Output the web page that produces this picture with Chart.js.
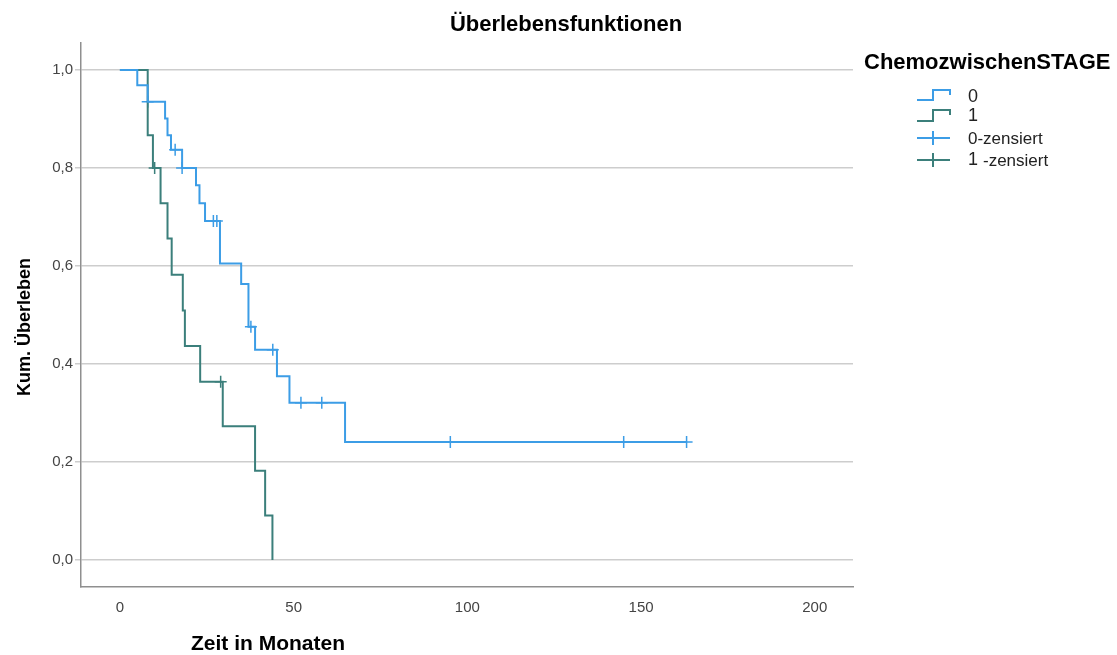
<!DOCTYPE html>
<html lang="de">
<head>
  <meta charset="UTF-8">
  <title>Überlebensfunktionen</title>
  <script src="https://cdn.jsdelivr.net/npm/chart.js"></script>
  <style>
    html, body { margin: 0; padding: 0; background: #fff; }
    canvas { display: block; }
  </style>
</head>
<body>
  <canvas id="kmChart" width="1117" height="655"></canvas>

  <script>
    // Kaplan-Meier Schätzung, Gruppe 0 (Zeit in Monaten / kum. Überleben)
    const zeit0 = [0, 5, 8, 13, 13.7, 14.7, 17.9, 21.9, 22.9, 24.5, 28.8, 34.9, 37, 38.9, 45.2, 48.8, 64.8, 163.1];
    const surv0 = [1, 0.969, 0.935, 0.901, 0.867, 0.837, 0.800, 0.765, 0.728, 0.692, 0.605, 0.563, 0.476, 0.429, 0.375, 0.321, 0.241, 0.241];
    const zensZeit0 = [8, 15.9, 17.9, 26.9, 27.9, 37.7, 44, 52.1, 58.1, 95.1, 145, 163.1];
    const zensSurv0 = [0.935, 0.837, 0.800, 0.692, 0.692, 0.476, 0.429, 0.321, 0.321, 0.241, 0.241, 0.241];

    // Gruppe 1
    const zeit1 = [0, 8, 9.5, 11.7, 13.7, 14.9, 18.1, 18.7, 23.1, 29.6, 38.9, 41.8, 43.9];
    const surv1 = [1, 0.867, 0.800, 0.728, 0.656, 0.582, 0.509, 0.437, 0.364, 0.273, 0.182, 0.091, 0];
    const zensZeit1 = [10, 29];
    const zensSurv1 = [0.800, 0.364];

    const xTicks = [0, 50, 100, 150, 200];
    const yTicks = [0, 0.2, 0.4, 0.6, 0.8, 1.0];

    const blau = '#3c9de6';
    const gruen = '#3b7f7b';
    const schrift = '"Liberation Sans", Arial, sans-serif';
    const schmal = '"Liberation Sans Narrow", "Liberation Sans", Arial, sans-serif';

    const punkte = (xs, ys) => xs.map((x, i) => ({ x: x, y: ys[i] }));

    // Titel, Achsentitel und Legende
    const beschriftung = {
      id: 'beschriftung',
      afterDraw(chart) {
        const c = chart.ctx;
        c.save();
        c.fillStyle = '#000';
        c.textBaseline = 'middle';

        c.textAlign = 'center';
        c.font = 'bold 22px ' + schrift;
        c.fillText('Überlebensfunktionen', 566, 25);

        c.font = 'bold 21px ' + schrift;
        c.fillText('Zeit in Monaten', 268, 644);
        c.save();
        c.translate(25, 327);
        c.rotate(-Math.PI / 2);
        c.font = 'bold 18px ' + schrift;
        c.fillText('Kum. Überleben', 0, 0);
        c.restore();

        // Legende
        c.textAlign = 'left';
        c.font = 'bold 22px ' + schrift;
        c.fillText('ChemozwischenSTAGE', 864, 63);

        c.lineWidth = 2;
        const stufe = (farbe, yLo, yHi) => {
          c.strokeStyle = farbe;
          c.beginPath();
          c.moveTo(917, yLo);
          c.lineTo(933, yLo);
          c.lineTo(933, yHi);
          c.lineTo(950, yHi);
          c.lineTo(950, yHi + 5);
          c.stroke();
        };
        const kreuz = (farbe, y) => {
          c.strokeStyle = farbe;
          c.beginPath();
          c.moveTo(917, y);
          c.lineTo(950, y);
          c.moveTo(933, y - 7);
          c.lineTo(933, y + 7);
          c.stroke();
        };
        stufe(blau, 100, 90);
        stufe(gruen, 121, 110);
        kreuz(blau, 138);
        kreuz(gruen, 160);

        c.fillStyle = '#222';
        c.font = '18px ' + schrift;
        c.fillText('0', 968, 97);
        c.fillText('1', 968, 116);
        c.fillText('1', 968, 160);
        c.font = '17px ' + schmal;
        c.fillText('0-zensiert', 968, 139);
        c.fillText('-zensiert', 983, 161);
        c.restore();
      }
    };

    new Chart(document.getElementById('kmChart'), {
      type: 'line',
      data: {
        datasets: [
          {
            label: '0',
            data: punkte(zeit0, surv0),
            borderColor: blau,
            borderWidth: 2,
            stepped: true,
            pointRadius: 0,
            fill: false
          },
          {
            label: '1',
            data: punkte(zeit1, surv1),
            borderColor: gruen,
            borderWidth: 2,
            stepped: true,
            pointRadius: 0,
            fill: false
          },
          {
            label: '0-zensiert',
            data: punkte(zensZeit0, zensSurv0),
            showLine: false,
            pointStyle: 'cross',
            pointRadius: 6,
            borderColor: blau,
            borderWidth: 1.5
          },
          {
            label: '1 -zensiert',
            data: punkte(zensZeit1, zensSurv1),
            showLine: false,
            pointStyle: 'cross',
            pointRadius: 6,
            borderColor: gruen,
            borderWidth: 1.5
          }
        ]
      },
      options: {
        responsive: false,
        animation: false,
        layout: { padding: { top: 43, right: 264, bottom: 0, left: 0 } },
        plugins: {
          legend: { display: false },
          title: { display: false },
          tooltip: { enabled: false }
        },
        scales: {
          x: {
            type: 'linear',
            min: -11.2,
            max: 211,
            afterBuildTicks: s => { s.ticks = xTicks.map(v => ({ value: v })); },
            afterFit: s => { s.height = 68; },
            grid: { display: false, drawTicks: false },
            border: { display: true, color: '#8f8f8f', width: 1.5 },
            ticks: {
              padding: 12,
              color: '#444',
              font: { family: schmal, size: 15 }
            }
          },
          y: {
            min: -0.055,
            max: 1.055,
            afterBuildTicks: s => { s.ticks = yTicks.map(v => ({ value: v })); },
            afterFit: s => { s.width = 81; },
            grid: { color: '#cdcdcd', lineWidth: 1.5, tickLength: 6 },
            border: { display: true, color: '#8f8f8f', width: 1.5 },
            ticks: {
              padding: 2,
              color: '#444',
              font: { family: schmal, size: 15 },
              callback: v => v.toFixed(1).replace('.', ',')
            }
          }
        }
      },
      plugins: [beschriftung]
    });
  </script>
</body>
</html>
